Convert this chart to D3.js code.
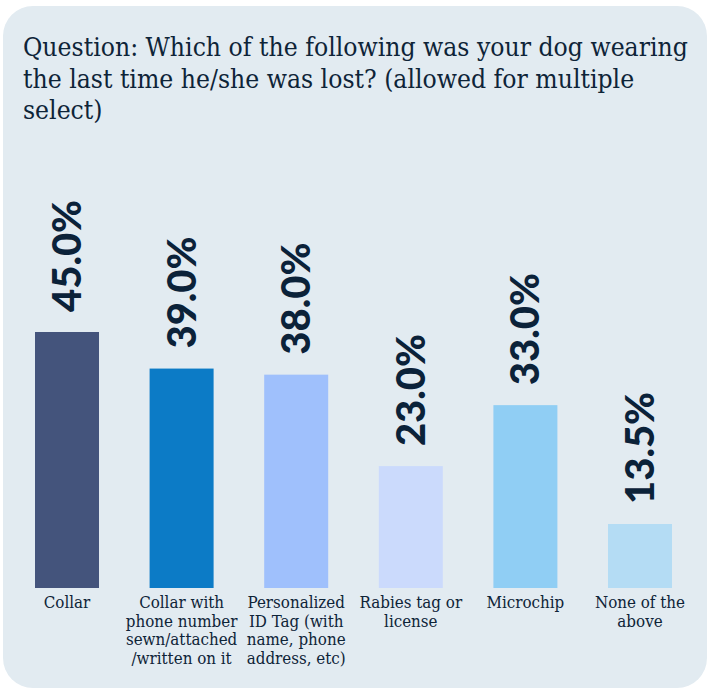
<!DOCTYPE html>
<html>
<head>
<meta charset="utf-8">
<script src="https://cdn.jsdelivr.net/npm/d3@7"></script>
<style>
  html, body { margin: 0; padding: 0; background: #ffffff; }
  svg { display: block; }
</style>
</head>
<body>
<script>
// Survey answers and their shares (%)
const categories = [
  "Collar",
  "Collar with phone number sewn/attached /written on it",
  "Personalized ID Tag (with name, phone address, etc)",
  "Rabies tag or license",
  "Microchip",
  "None of the above"
];
const categoryLines = [
  ["Collar"],
  ["Collar with", "phone number", "sewn/attached", "/written on it"],
  ["Personalized", "ID Tag (with", "name, phone", "address, etc)"],
  ["Rabies tag or", "license"],
  ["Microchip"],
  ["None of the", "above"]
];
const values = [45.0, 39.0, 38.0, 23.0, 33.0, 13.5];
const valueLabels = ["45.0%", "39.0%", "38.0%", "23.0%", "33.0%", "13.5%"];
const barColors = ["#44547c", "#0c7bc6", "#9fc0fc", "#cbdafc", "#90cef4", "#b4dcf4"];
const titleLines = [
  "Question: Which of the following was your dog wearing",
  "the last time he/she was lost? (allowed for multiple",
  "select)"
];

const W = 709, H = 691;
const ink = "#0e2438";
const serif = "'DejaVu Serif Condensed', 'DejaVu Serif', serif";

const svg = d3.select("body").append("svg")
  .attr("width", W).attr("height", H);

// card background
svg.append("rect")
  .attr("x", 3).attr("y", 6)
  .attr("width", 704).attr("height", 682)
  .attr("rx", 30).attr("ry", 30)
  .attr("fill", "#e2ebf1");

// title, sized so the first line spans the card's text width
const title = svg.append("text")
  .attr("font-family", serif)
  .attr("font-stretch", "condensed")
  .attr("fill", ink);
titleLines.forEach((t, i) => {
  title.append("tspan").attr("x", 23).attr("y", 56 + i * 31.5).text(t);
});
title.attr("font-size", 24);
const firstLen = title.select("tspan").node().getComputedTextLength();
const titleSize = 24 * 665 / firstLen;
title.attr("font-size", titleSize);

// scales
const x = d3.scaleBand()
  .domain(categories)
  .range([35, 672])
  .paddingInner(0.4415)
  .paddingOuter(0);

const y = d3.scaleLinear()
  .domain([3, 45])
  .range([588, 332]);

const bars = svg.append("g");
bars.selectAll("rect")
  .data(values)
  .join("rect")
  .attr("x", (d, i) => x(categories[i]))
  .attr("y", d => y(d))
  .attr("width", x.bandwidth())
  .attr("height", d => y.range()[0] - y(d))
  .attr("fill", (d, i) => barColors[i]);

// rotated value labels above each bar
bars.selectAll("text.value")
  .data(values)
  .join("text")
  .attr("class", "value")
  .attr("transform", (d, i) => {
    const cx = x(categories[i]) + x.bandwidth() / 2 + 14;
    return `translate(${cx},${y(d) - 20}) rotate(-90)`;
  })
  .attr("text-anchor", "start")
  .attr("font-family", "Lato, sans-serif")
  .attr("font-weight", 900)
  .attr("font-size", 40)
  .attr("fill", "#0b2239")
  .text((d, i) => valueLabels[i]);

// category labels under the bars
const cats = svg.append("g")
  .attr("font-family", serif)
  .attr("font-stretch", "condensed")
  .attr("font-size", titleSize * 0.64)
  .attr("fill", ink)
  .attr("text-anchor", "middle");
categories.forEach((c, i) => {
  const t = cats.append("text");
  categoryLines[i].forEach((line, j) => {
    t.append("tspan")
      .attr("x", x(c) + x.bandwidth() / 2)
      .attr("y", 608 + j * 18.7)
      .text(line);
  });
});
</script>
</body>
</html>
